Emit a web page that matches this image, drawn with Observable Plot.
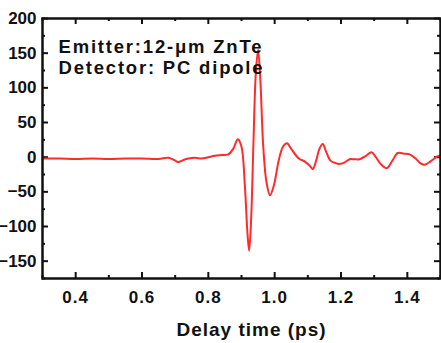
<!DOCTYPE html>
<html>
<head>
<meta charset="utf-8">
<script src="https://cdn.jsdelivr.net/npm/d3@7"></script>
<script src="https://cdn.jsdelivr.net/npm/@observablehq/plot@0.6"></script>
<style>
  html, body { margin: 0; padding: 0; background: #fff; }
  #chart svg { display: block; }
  .wide1 text { letter-spacing: 1px; }
  .wide2 text { letter-spacing: 1.8px; }
</style>
</head>
<body>
<div id="chart"></div>
<script>
// Delay time (ps)
const time = [0.30, 0.35, 0.40, 0.45, 0.50, 0.55, 0.60, 0.65, 0.68, 0.70, 0.71, 0.725, 0.74, 0.76, 0.78, 0.80, 0.82, 0.84, 0.86, 0.875, 0.889, 0.90, 0.91, 0.918, 0.923, 0.929, 0.936, 0.943, 0.95, 0.957, 0.965, 0.975, 0.986, 0.998, 1.012, 1.025, 1.037, 1.05, 1.065, 1.076, 1.09, 1.105, 1.115, 1.125, 1.135, 1.145, 1.155, 1.168, 1.18, 1.195, 1.21, 1.226, 1.24, 1.256, 1.275, 1.292, 1.305, 1.32, 1.338, 1.355, 1.371, 1.39, 1.407, 1.425, 1.44, 1.452, 1.47, 1.49, 1.50];
// THz signal (a.u.)
const signal = [-2, -2, -2.5, -2, -2.5, -2, -2, -2.5, -1, -5, -7, -4, -2, -1, -2, 0, 2, 3, 4, 12, 26, 15, -40, -110, -135, -90, 20, 120, 155, 110, 20, -35, -55, -40, -5, 15, 20, 12, 2, -3, -6, -12, -17, -5, 12, 19, 8, -5, -8, -10, -8, -3, -3, -3, 2, 7, 0, -10, -16, -5, 6, 5, 4, -2, -9, -11, -6, 1, 2];

const xMajor = [0.4, 0.6, 0.8, 1.0, 1.2, 1.4];
const xMinor = [0.3, 0.5, 0.7, 0.9, 1.1, 1.3, 1.5];
const yMajor = [-150, -100, -50, 0, 50, 100, 150, 200];
const yMinor = [-175, -125, -75, -25, 25, 75, 125, 175];
const annotation = ["Emitter:12-μm ZnTe", "Detector: PC dipole"];
const xLabel = "Delay time (ps)";

const data = time.map((t, i) => ({t, v: signal[i]}));

const W = 441, H = 343;
const mL = 42, mR = 1, mT = 18, mB = 65;
const pw = W - mL - mR, ph = H - mT - mB;
const font = "Liberation Sans, Arial, sans-serif";

const chart = Plot.plot({
  width: W,
  height: H,
  marginLeft: mL,
  marginRight: mR,
  marginTop: mT,
  marginBottom: mB,
  style: {fontFamily: font, background: "#fff"},
  x: {domain: [0.3, 1.5]},
  y: {domain: [-175, 200]},
  marks: [
    Plot.tickX(xMajor, {x: d => d, insetTop: ph - 6, stroke: "#111", strokeWidth: 2}),
    Plot.tickX(xMajor, {x: d => d, insetBottom: ph - 6, stroke: "#111", strokeWidth: 2}),
    Plot.tickX(xMinor, {x: d => d, insetTop: ph - 3, stroke: "#111", strokeWidth: 2}),
    Plot.tickX(xMinor, {x: d => d, insetBottom: ph - 3, stroke: "#111", strokeWidth: 2}),
    Plot.tickY(yMajor, {y: d => d, insetRight: pw - 6, stroke: "#111", strokeWidth: 2}),
    Plot.tickY(yMajor, {y: d => d, insetLeft: pw - 6, stroke: "#111", strokeWidth: 2}),
    Plot.tickY(yMinor, {y: d => d, insetRight: pw - 3, stroke: "#111", strokeWidth: 2}),
    Plot.tickY(yMinor, {y: d => d, insetLeft: pw - 3, stroke: "#111", strokeWidth: 2}),
    Plot.axisX(xMajor, {className: "wide1", tickSize: 0, tickPadding: 12, fontSize: 17, fontWeight: "bold", fill: "#111", label: null, tickFormat: d3.format(".1f")}),
    Plot.axisY(yMajor, {tickSize: 0, tickPadding: 6, fontSize: 17, fontWeight: "bold", fill: "#111", label: null}),
    Plot.line(data, {x: "t", y: "v", stroke: "#ff2a2a", strokeWidth: 2, curve: "catmull-rom"}),
    Plot.text([annotation.join("\n")], {className: "wide2", frameAnchor: "top-left", dx: 16, dy: 20, lineAnchor: "top", lineHeight: 1.12, fontSize: 18.5, fontWeight: "bold", fill: "#111", textAnchor: "start"}),
    Plot.text([xLabel], {className: "wide1", frameAnchor: "bottom", dx: 10, dy: 44, lineAnchor: "top", fontSize: 19, fontWeight: "bold", fill: "#111"}),
    Plot.frame({stroke: "#111", strokeWidth: 2.5})
  ]
});

document.getElementById("chart").appendChild(chart);
</script>
</body>
</html>
